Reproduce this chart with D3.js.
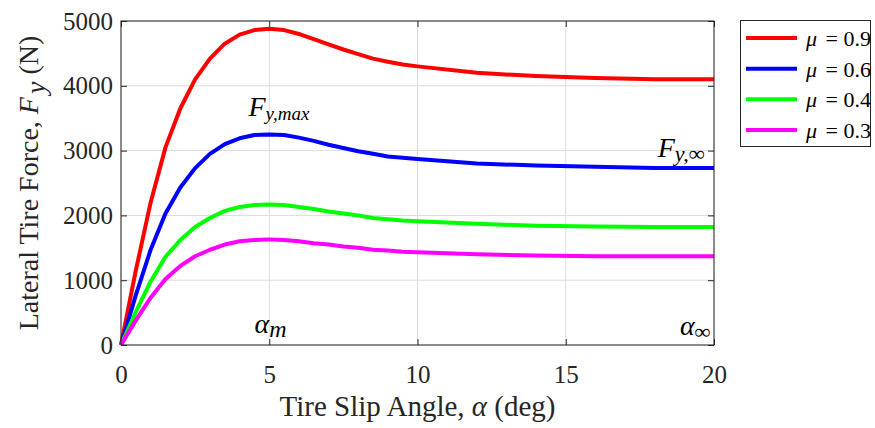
<!DOCTYPE html>
<html>
<head>
<meta charset="utf-8">
<script src="https://cdn.jsdelivr.net/npm/d3@7"></script>
<style>
  body { margin: 0; background: #fff; }
  text { font-family: "Liberation Serif", "DejaVu Serif", serif; }
</style>
</head>
<body>
<svg id="chart" width="875" height="428"></svg>
<script>
// slip angle samples (deg)
const alpha = [0, 0.5, 1, 1.5, 2, 2.5, 3, 3.5, 4, 4.5, 5, 5.5, 6, 6.5, 7, 7.5, 8, 8.5, 9, 9.5, 10, 12, 14, 16, 18, 20];

// lateral force (N), one array per friction coefficient
const fy09 = [0, 1150, 2200, 3050, 3650, 4100, 4420, 4650, 4790, 4860, 4880, 4860, 4800, 4720, 4640, 4560, 4490, 4420, 4370, 4330, 4300, 4200, 4150, 4120, 4100, 4100];
const fy06 = [0, 770, 1470, 2030, 2430, 2730, 2950, 3100, 3190, 3240, 3250, 3240, 3200, 3150, 3090, 3040, 2990, 2950, 2910, 2890, 2870, 2800, 2770, 2750, 2730, 2730];
const fy04 = [0, 510, 980, 1360, 1620, 1820, 1960, 2070, 2130, 2160, 2170, 2160, 2130, 2100, 2060, 2030, 2000, 1960, 1940, 1920, 1910, 1870, 1840, 1830, 1820, 1820];
const fy03 = [0, 380, 730, 1020, 1220, 1370, 1470, 1550, 1600, 1620, 1630, 1620, 1600, 1570, 1550, 1520, 1500, 1470, 1460, 1440, 1430, 1400, 1380, 1370, 1370, 1370];

const seriesNames = ['0.9', '0.6', '0.4', '0.3'];
const seriesData = [fy09, fy06, fy04, fy03];
const seriesColors = ['#ff0000', '#0000ff', '#00ff00', '#ff00ff'];

const xTicks = [0, 5, 10, 15, 20];
const yTicks = [0, 1000, 2000, 3000, 4000, 5000];

// layout
const plotL = 121, plotR = 714, plotT = 21, plotB = 345;

const svg = d3.select('#chart');

const x = d3.scaleLinear().domain([0, 20]).range([plotL, plotR]);
const y = d3.scaleLinear().domain([0, 5000]).range([plotB, plotT]);

// grid
svg.append('g')
    .selectAll('line')
    .data(xTicks)
    .join('line')
    .attr('x1', d => x(d)).attr('x2', d => x(d))
    .attr('y1', plotT).attr('y2', plotB)
    .attr('stroke', '#dcdcdc').attr('stroke-width', 1);

svg.append('g')
    .selectAll('line')
    .data(yTicks)
    .join('line')
    .attr('y1', d => y(d)).attr('y2', d => y(d))
    .attr('x1', plotL).attr('x2', plotR)
    .attr('stroke', '#dcdcdc').attr('stroke-width', 1);

// axes with inward ticks (box on)
const fmt = d3.format('d');
function styleAxis(g) {
    g.select('.domain').remove();
    g.selectAll('line').attr('stroke', '#262626');
    g.selectAll('text').attr('fill', '#262626').style('font-size', '25px');
}

svg.append('g')
    .attr('transform', `translate(0,${plotB})`)
    .call(d3.axisBottom(x).tickValues(xTicks).tickFormat(fmt).tickSizeInner(-6).tickPadding(20))
    .call(styleAxis);

svg.append('g')
    .attr('transform', `translate(${plotL},0)`)
    .call(d3.axisLeft(y).tickValues(yTicks).tickFormat(fmt).tickSizeInner(-6).tickPadding(8))
    .call(styleAxis);

svg.append('g')
    .attr('transform', `translate(0,${plotT})`)
    .call(d3.axisTop(x).tickValues(xTicks).tickFormat('').tickSizeInner(-6))
    .call(styleAxis);

svg.append('g')
    .attr('transform', `translate(${plotR},0)`)
    .call(d3.axisRight(y).tickValues(yTicks).tickFormat('').tickSizeInner(-6))
    .call(styleAxis);

// curves
const line = d3.line()
    .x((d, i) => x(alpha[i]))
    .y(d => y(d));

svg.append('g')
    .selectAll('path')
    .data(seriesData)
    .join('path')
    .attr('d', line)
    .attr('fill', 'none')
    .attr('stroke', (d, i) => seriesColors[i])
    .attr('stroke-width', 4)
    .attr('stroke-linejoin', 'round');

// plot box
svg.append('rect')
    .attr('x', plotL).attr('y', plotT)
    .attr('width', plotR - plotL).attr('height', plotB - plotT)
    .attr('fill', 'none').attr('stroke', '#262626').attr('stroke-width', 1);

// annotations
function annot(px, py, main, sub, subSize) {
    const t = svg.append('text')
        .attr('x', px).attr('y', py)
        .style('font-style', 'italic')
        .style('font-size', '28px')
        .attr('fill', '#000');
    t.append('tspan').text(main);
    t.append('tspan').text(sub).style('font-size', subSize + 'px').attr('dy', 4);
}
annot(x(4.3), y(3530), 'F', 'y,max', 19);
annot(x(18.1), y(2900), 'F', 'y,∞', 22);
annot(x(4.5), y(180), 'α', 'm', 24);
annot(x(18.85), y(150), 'α', '∞', 22);

// axis labels
svg.append('text')
    .attr('x', (plotL + plotR) / 2).attr('y', 416)
    .attr('text-anchor', 'middle')
    .style('font-size', '29px')
    .attr('fill', '#262626')
    .html('Tire Slip Angle, <tspan font-style="italic">α</tspan> (deg)');

const yl = svg.append('text')
    .attr('transform', `translate(38,${(plotT + plotB) / 2}) rotate(-90)`)
    .attr('text-anchor', 'middle')
    .style('font-size', '28px')
    .attr('fill', '#262626');
yl.append('tspan').text('Lateral Tire Force,  ');
yl.append('tspan').text('F').style('font-style', 'italic');
yl.append('tspan').text('y').style('font-style', 'italic').attr('dy', 7).attr('dx', 3);
yl.append('tspan').text('  (N)').attr('dy', -7);

// legend
const lg = svg.append('g');
lg.append('rect')
    .attr('x', 740.5).attr('y', 20.5).attr('width', 130).attr('height', 126)
    .attr('fill', '#fff').attr('stroke', '#262626').attr('stroke-width', 1);

const ly = d3.scalePoint().domain(seriesNames).range([38, 130]);
const item = lg.selectAll('g.item')
    .data(seriesNames)
    .join('g')
    .attr('class', 'item');

item.append('line')
    .attr('x1', 746).attr('x2', 797)
    .attr('y1', d => ly(d)).attr('y2', d => ly(d))
    .attr('stroke', (d, i) => seriesColors[i])
    .attr('stroke-width', 4);

const lt = item.append('text')
    .attr('x', 806).attr('y', d => ly(d) + 8)
    .style('font-size', '22px')
    .attr('fill', '#000');
lt.append('tspan').text('μ').style('font-style', 'italic');
lt.append('tspan').text(d => ' = ' + d).attr('dx', 3);
</script>
</body>
</html>
